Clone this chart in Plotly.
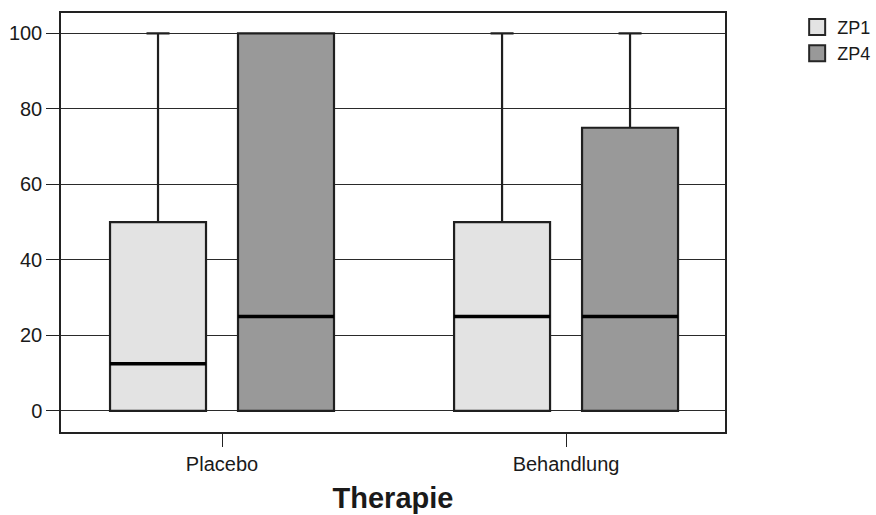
import plotly.graph_objects as go

# Therapie groups and the two time points
categories = ["Placebo", "Behandlung"]
series_names = ["ZP1", "ZP4"]

# Five-number summaries per time point (one value per group)
zp1_lower = [0, 0]
zp1_q1 = [0, 0]
zp1_median = [12.5, 25]
zp1_q3 = [50, 50]
zp1_upper = [100, 100]

zp4_lower = [0, 0]
zp4_q1 = [0, 0]
zp4_median = [25, 25]
zp4_q3 = [100, 75]
zp4_upper = [100, 100]

y_ticks = [0, 20, 40, 60, 80, 100]

fills = {"ZP1": "#e3e3e3", "ZP4": "#999999"}
font_family = "Arial, Liberation Sans, sans-serif"
text_color = "#1a1a1a"

summaries = {
    "ZP1": (zp1_lower, zp1_q1, zp1_median, zp1_q3, zp1_upper),
    "ZP4": (zp4_lower, zp4_q1, zp4_median, zp4_q3, zp4_upper),
}

fig = go.Figure()

for name in series_names:
    lo, q1, med, q3, hi = summaries[name]
    # box with whiskers
    fig.add_trace(go.Box(
        name=name, x=categories,
        lowerfence=lo, q1=q1, median=med, q3=q3, upperfence=hi,
        fillcolor=fills[name],
        line=dict(color="#1f1f1f", width=2.2),
        whiskerwidth=0.24,
        offsetgroup=name, alignmentgroup="all",
        boxpoints=False, hoverinfo="skip", showlegend=False,
    ))
    # heavier median bar drawn on top of the box
    fig.add_trace(go.Box(
        name=name, x=categories,
        lowerfence=med, q1=med, median=med, q3=med, upperfence=med,
        fillcolor="rgba(0,0,0,0)",
        line=dict(color="#000000", width=3.4),
        whiskerwidth=0,
        offsetgroup=name, alignmentgroup="all",
        boxpoints=False, hoverinfo="skip", showlegend=False,
    ))

# square legend swatches
for name in series_names:
    fig.add_trace(go.Scatter(
        name=name, x=[None], y=[None], mode="markers",
        marker=dict(symbol="square", size=16, color=fills[name],
                    line=dict(color="#262626", width=2)),
        hoverinfo="skip",
    ))

fig.update_layout(
    width=876, height=515,
    margin=dict(l=61, r=151, t=13, b=83, autoexpand=False),
    paper_bgcolor="white", plot_bgcolor="white",
    boxmode="group", boxgap=0.256, boxgroupgap=0.25,
    font=dict(family=font_family, size=20, color=text_color),
    showlegend=True,
    legend=dict(
        xref="container", yref="container",
        x=0.910, y=0.983, xanchor="left", yanchor="top",
        font=dict(size=18, color=text_color),
        bgcolor="rgba(0,0,0,0)", tracegroupgap=0, itemsizing="trace",
    ),
)

fig.update_xaxes(
    type="category", range=[-0.468, 1.462], automargin=False,
    showline=True, linecolor="#222222", linewidth=1.5, mirror=True,
    ticks="outside", ticklen=13, tickwidth=1.3, tickcolor="#222222",
    tickfont=dict(size=20, color=text_color),
    showgrid=False, zeroline=False,
    title=dict(text="<b>Therapie</b>", font=dict(size=29, color=text_color), standoff=14),
)

fig.update_yaxes(
    range=[-5.6, 105.4], tickvals=y_ticks, automargin=False,
    showline=True, linecolor="#222222", linewidth=1.5, mirror=True,
    ticks="outside", ticklen=13, tickwidth=1.3, tickcolor="#222222",
    tickfont=dict(size=20, color=text_color),
    showgrid=True, gridcolor="#2a2a2a", gridwidth=1.3,
    zeroline=False,
)

fig.write_html("out.html")
